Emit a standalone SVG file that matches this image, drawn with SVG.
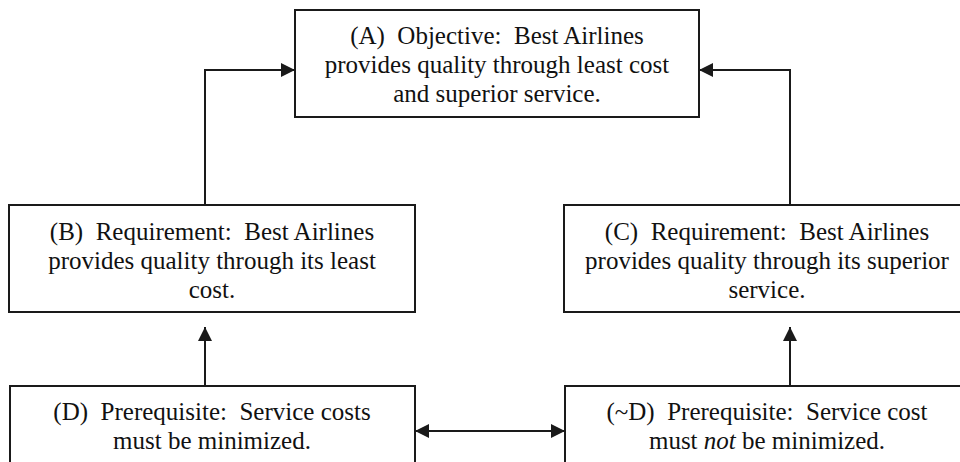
<svg xmlns="http://www.w3.org/2000/svg" width="960" height="462" viewBox="0 0 960 462">
  <style>
    .box { fill: #ffffff; stroke: #1a1a1a; stroke-width: 2; }
    .lbl { font-family: 'Liberation Serif', 'DejaVu Serif', serif; font-size: 25px; fill: #111111; text-anchor: middle; }
    .conn { fill: none; stroke: #1a1a1a; stroke-width: 2; }
  </style>
  <defs>
    <marker id="arrow" viewBox="0 0 14 14" refX="14" refY="7" markerWidth="14" markerHeight="14" markerUnits="userSpaceOnUse" orient="auto-start-reverse">
      <path d="M0,0 L14,7 L0,14 Z" fill="#1a1a1a"/>
    </marker>
  </defs>
  <rect width="960" height="462" fill="#ffffff"/>

  <g id="connectors">
    <path class="conn" d="M205,205 V70 H295" marker-end="url(#arrow)"/>
    <path class="conn" d="M790,205 V70 H699" marker-end="url(#arrow)"/>
    <path class="conn" d="M205,386 V327" marker-end="url(#arrow)"/>
    <path class="conn" d="M790,386 V327" marker-end="url(#arrow)"/>
    <path class="conn" d="M415,431 H565" marker-start="url(#arrow)" marker-end="url(#arrow)"/>
  </g>

  <g id="node-a">
    <rect class="box" x="295" y="10" width="404" height="107"/>
    <text class="lbl" font-family="Liberation Serif, serif" xml:space="preserve" x="497" y="44">(A)  Objective:  Best Airlines</text>
    <text class="lbl" font-family="Liberation Serif, serif" x="497" y="73">provides quality through least cost</text>
    <text class="lbl" font-family="Liberation Serif, serif" x="497" y="102">and superior service.</text>
  </g>

  <g id="node-b">
    <rect class="box" x="9" y="205" width="406" height="107"/>
    <text class="lbl" xml:space="preserve" x="212" y="240">(B)  Requirement:  Best Airlines</text>
    <text class="lbl" x="212" y="269">provides quality through its least</text>
    <text class="lbl" x="212" y="298">cost.</text>
  </g>

  <g id="node-c">
    <rect class="box" x="564" y="205" width="406" height="107"/>
    <text class="lbl" xml:space="preserve" x="767" y="240">(C)  Requirement:  Best Airlines</text>
    <text class="lbl" x="767" y="269">provides quality through its superior</text>
    <text class="lbl" x="767" y="298">service.</text>
  </g>

  <g id="node-d">
    <rect class="box" x="10" y="386" width="405" height="90"/>
    <text class="lbl" xml:space="preserve" x="212" y="420">(D)  Prerequisite:  Service costs</text>
    <text class="lbl" x="212" y="449">must be minimized.</text>
  </g>

  <g id="node-not-d">
    <rect class="box" x="565" y="386" width="405" height="90"/>
    <text class="lbl" xml:space="preserve" x="767" y="420">(~D)  Prerequisite:  Service cost</text>
    <text class="lbl" xml:space="preserve" x="767" y="449">must <tspan font-style="italic">not</tspan> be minimized.</text>
  </g>
</svg>
